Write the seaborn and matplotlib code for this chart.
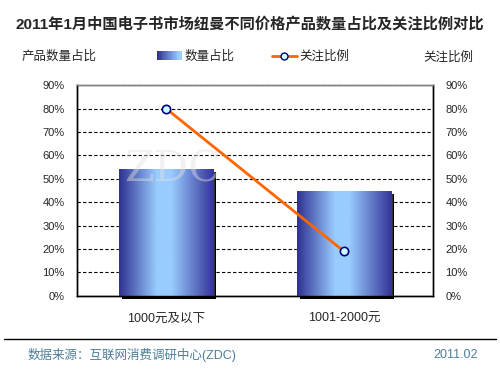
import numpy as np
import pandas as pd
import seaborn as sns
import matplotlib.pyplot as plt
import matplotlib.transforms as mtransforms
from matplotlib.colors import LinearSegmentedColormap
from matplotlib.patches import Rectangle
from matplotlib.lines import Line2D
from matplotlib.legend_handler import HandlerBase

categories = ['1000元及以下', '1001-2000元']
share = [54, 45]        # 数量占比 (%)
attention = [80, 19]    # 关注比例 (%)
yticks = list(range(0, 100, 10))

sns.set_style('white')
plt.rcParams['font.family'] = ['Liberation Sans', 'Noto Sans CJK SC', 'DejaVu Sans']

bar_cmap = LinearSegmentedColormap.from_list(
    'bar', [(0, '#2e3192'), (0.4, '#99ccff'), (0.55, '#99ccff'), (1, '#333399')])


class GradHandler(HandlerBase):
    def create_artists(self, legend, orig, xdescent, ydescent, width, height, fontsize, trans):
        n = 20
        out = []
        for i in range(n):
            out.append(Rectangle((-xdescent + i * width / n, -ydescent), width / n + 0.3, height,
                                 facecolor=bar_cmap(0.45 * i / (n - 1)), lw=0, transform=trans))
        return out


fig = plt.figure(figsize=(5, 3.75), dpi=100)
ax = fig.add_axes([0.154, 0.211, 0.712, 0.562])

df = pd.DataFrame({'cat': categories, 'share': share})
sns.barplot(data=df, x='cat', y='share', ax=ax, width=0.53, color='#6699cc', zorder=3)

# gradient fill + drop shadow for each bar
shadow_off = mtransforms.ScaledTranslation(3 / 100, -3 / 100, fig.dpi_scale_trans)
grad = np.linspace(0, 1, 256).reshape(1, -1)
for p in list(ax.patches):
    x0, w, h = p.get_x(), p.get_width(), p.get_height()
    shadow = Rectangle((x0, 0), w, h, facecolor='black', lw=0,
                       transform=ax.transData + shadow_off, zorder=2, clip_on=False)
    ax.add_patch(shadow)
    im = ax.imshow(grad, extent=[x0, x0 + w, 0, h], aspect='auto', cmap=bar_cmap, zorder=3)
    im.set_clip_path(p)
    p.set_facecolor('none')

ax.set_xlim(-0.5, 1.5)
ax.set_ylim(0, 90)
ax.set_yticks(yticks)
ax.set_yticklabels([f'{v}%' for v in yticks], fontsize=8)
ax.set_xlabel('')
ax.set_ylabel('')
ax.tick_params(axis='x', length=0, pad=12, labelsize=9)
ax.tick_params(axis='y', length=0, pad=9)
ax.set_axisbelow(True)
ax.yaxis.grid(True, linestyle=(0, (3, 2)), color='black', lw=0.8)

# watermark
ax.text(0.27, 0.6, 'ZDC', transform=ax.transAxes, fontsize=31, family='DejaVu Serif',
        color='#e0e0e0', alpha=0.45, ha='center', va='center', zorder=4)

ax2 = ax.twinx()
sns.lineplot(x=np.arange(len(categories)), y=attention, ax=ax2, color='#ff6600', lw=2,
             marker='o', markersize=6, markerfacecolor='#ccffff', markeredgecolor='#000080',
             markeredgewidth=1.2, legend=False)
ax2.set_ylim(0, 90)
ax2.set_yticks(yticks)
ax2.set_yticklabels([f'{v}%' for v in yticks], fontsize=8)
ax2.tick_params(axis='y', length=0, pad=9)
ax2.set_ylabel('')

for a in (ax, ax2):
    for s in ('left', 'right', 'bottom'):
        a.spines[s].set_color('black')
        a.spines[s].set_linewidth(1)
    a.spines['top'].set_color('#808080')
    a.spines['top'].set_linewidth(1)

handles = [Rectangle((0, 0), 1, 1),
           Line2D([], [], color='#ff6600', lw=2, marker='o', markersize=5,
                  markerfacecolor='#ccffff', markeredgecolor='#000080')]
fig.legend(handles, ['数量占比', '关注比例'], loc='center', bbox_to_anchor=(0.506, 1 - 57 / 375),
           ncol=2, frameon=False, fontsize=9, handlelength=2, handletextpad=0.2,
           columnspacing=3, handler_map={Rectangle: GradHandler()})

fig.text(0.5, 1 - 25 / 375, '2011年1月中国电子书市场纽曼不同价格产品数量占比及关注比例对比',
         ha='center', va='center', fontsize=11, fontweight='bold')
fig.text(22 / 500, 1 - 57 / 375, '产品数量占比', ha='left', va='center', fontsize=9)
fig.text(473 / 500, 1 - 58 / 375, '关注比例', ha='right', va='center', fontsize=9)

fig.add_artist(Line2D([4 / 500, 496 / 500], [1 - 339 / 375] * 2, color='black', lw=1))
fig.text(28 / 500, 1 - 355 / 375, '数据来源：互联网消费调研中心(ZDC)', ha='left', va='center',
         fontsize=9, color='#4d7f99')
fig.text(478 / 500, 1 - 355 / 375, '2011.02', ha='right', va='center', fontsize=9, color='#4d7f99')

fig.savefig('out.png', dpi=100)
